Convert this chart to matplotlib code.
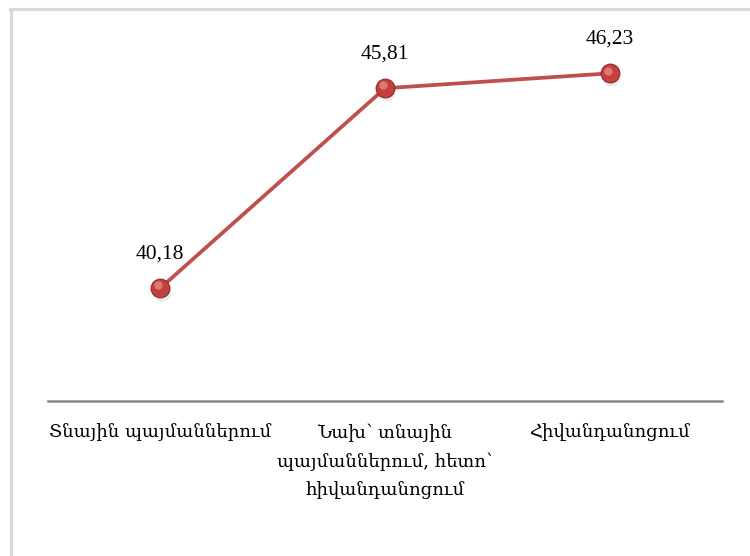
import matplotlib
matplotlib.use("Agg")
import matplotlib.pyplot as plt
from matplotlib.lines import Line2D

categories = [
    "Տնային պայմաններում",
    "Նախ՝ տնային\nպայմաններում, հետո՝\nհիվանդանոցում",
    "Հիվանդանոցում",
]
values = [40.18, 45.81, 46.23]
value_labels = ["40,18", "45,81", "46,23"]

fig = plt.figure(figsize=(7.5, 5.56), dpi=100)
fig.patch.set_facecolor("white")

# outer chart frame (left and top edges)
fig.add_artist(Line2D([10.5 / 750, 10.5 / 750], [0, 1 - 9 / 556],
                      transform=fig.transFigure, color="#D9D9D9", lw=2.2))
fig.add_artist(Line2D([10 / 750, 1], [1 - 9 / 556, 1 - 9 / 556],
                      transform=fig.transFigure, color="#D9D9D9", lw=2.2))

ax = fig.add_axes([48 / 750, 1 - 401 / 556, 674 / 750, (401 - 10.5) / 556])
ax.set_xlim(-0.5, 2.5)
ax.set_ylim(37.0, 48.0)

x = list(range(len(categories)))
red = "#C0504D"

# soft shadow under the markers
ax.plot(x, values, linestyle="none", marker="o", markersize=13,
        markerfacecolor="#000000", markeredgecolor="none", alpha=0.08,
        transform=ax.transData + matplotlib.transforms.ScaledTranslation(1 / 72, -2.5 / 72, fig.dpi_scale_trans),
        zorder=2)
ax.plot(x, values, color=red, lw=2.7, zorder=3, solid_capstyle="round")
ax.plot(x, values, linestyle="none", marker="o", markersize=13.5,
        markerfacecolor="#C4403D", markeredgecolor="#8E2B29", markeredgewidth=0.8,
        zorder=4)
# highlight on the spheres
ax.plot(x, values, linestyle="none", marker="o", markersize=6,
        markerfacecolor="#E8908E", markeredgecolor="none", alpha=0.7,
        transform=ax.transData + matplotlib.transforms.ScaledTranslation(-1.5 / 72, 2 / 72, fig.dpi_scale_trans),
        zorder=5)

for xi, v, lab in zip(x, values, value_labels):
    ax.annotate(lab, (xi, v), xytext=(0, 18), textcoords="offset points",
                ha="center", va="bottom", fontsize=15.5,
                family=["Liberation Serif", "DejaVu Serif"], color="black")

ax.set_xticks(x)
ax.set_xticklabels(categories, fontsize=13, family=["DejaVu Serif", "DejaVu Sans"],
                   linespacing=1.75, va="top")
ax.tick_params(axis="x", length=0, pad=16)
ax.set_yticks([])

for side in ["left", "right", "top"]:
    ax.spines[side].set_visible(False)
ax.spines["bottom"].set_color("#868686")
ax.spines["bottom"].set_linewidth(1.8)

fig.savefig("out.png", dpi=100, facecolor="white")
